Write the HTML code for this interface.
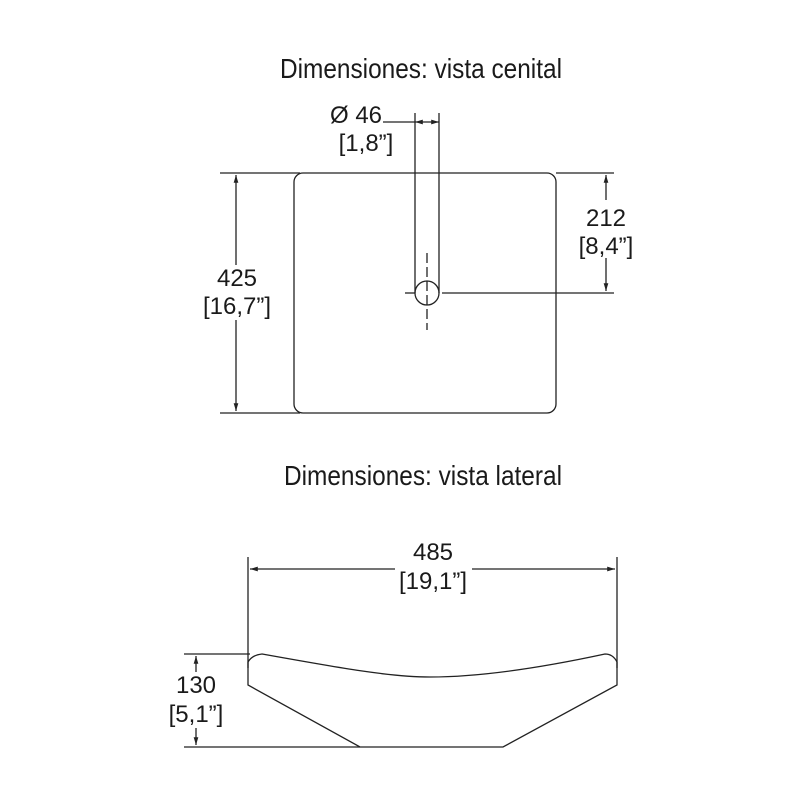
<!DOCTYPE html>
<html><head><style>body{margin:0;background:#fff}</style></head><body>
<svg width="800" height="800" viewBox="0 0 800 800" xmlns="http://www.w3.org/2000/svg" font-family="Liberation Sans, sans-serif" fill="#1a1a1a">
<defs>
<marker id="a" viewBox="0 0 10 10" refX="10" refY="5" markerWidth="8" markerHeight="6" orient="auto-start-reverse"><path d="M0,2 L10,5 L0,8 z" fill="#222"/></marker>
</defs>
<g font-size="28">
<text x="280" y="78" textLength="282" lengthAdjust="spacingAndGlyphs">Dimensiones: vista cenital</text>
<text x="284" y="485" textLength="278" lengthAdjust="spacingAndGlyphs">Dimensiones: vista lateral</text>
</g>
<g font-size="24" text-anchor="middle">
<text x="356" y="123">Ø 46</text>
<text x="366" y="151">[1,8”]</text>
<text x="606" y="226">212</text>
<text x="606" y="254">[8,4”]</text>
<text x="237" y="286">425</text>
<text x="237" y="314">[16,7”]</text>
<text x="433" y="560">485</text>
<text x="433" y="589">[19,1”]</text>
<text x="196" y="693">130</text>
<text x="196" y="722">[5,1”]</text>
</g>
<g fill="none" stroke="#222" stroke-width="1.3">
<rect x="294" y="173" width="262" height="240" rx="9"/>
<line x1="415" y1="113" x2="415" y2="293"/>
<line x1="439" y1="113" x2="439" y2="293"/>
<line x1="383" y1="122" x2="415" y2="122"/>
<line x1="415" y1="122" x2="439" y2="122" marker-end="url(#a)" marker-start="url(#a)"/>
<circle cx="427" cy="293" r="12"/>
<line x1="427" y1="253" x2="427" y2="330" stroke-dasharray="10,4"/>
<line x1="405" y1="293" x2="415" y2="293"/>
<line x1="442" y1="293" x2="614" y2="293"/>
<line x1="556" y1="173" x2="614" y2="173"/>
<line x1="606" y1="175" x2="606" y2="200" marker-start="url(#a)"/>
<line x1="606" y1="258" x2="606" y2="291" marker-end="url(#a)"/>
<line x1="220" y1="173" x2="300" y2="173"/>
<line x1="220" y1="413" x2="300" y2="413"/>
<line x1="236" y1="175" x2="236" y2="265" marker-start="url(#a)"/>
<line x1="236" y1="320" x2="236" y2="411" marker-end="url(#a)"/>
<line x1="248" y1="557" x2="248" y2="668"/>
<line x1="617" y1="557" x2="617" y2="668"/>
<line x1="250" y1="569" x2="395" y2="569" marker-start="url(#a)"/>
<line x1="472" y1="569" x2="615" y2="569" marker-end="url(#a)"/>
<path d="M248,685 L248,662 Q252,655 262,654 C340,668 390,677 430,677 C480,677 540,668 605,654 Q613,654 617,662 L617,685 L503,747 L360,747 Z"/>
<line x1="184" y1="654" x2="250" y2="654"/>
<line x1="184" y1="747" x2="360" y2="747"/>
<line x1="196" y1="656" x2="196" y2="672" marker-start="url(#a)"/>
<line x1="196" y1="728" x2="196" y2="745" marker-end="url(#a)"/>
</g>
</svg>
</body></html>
